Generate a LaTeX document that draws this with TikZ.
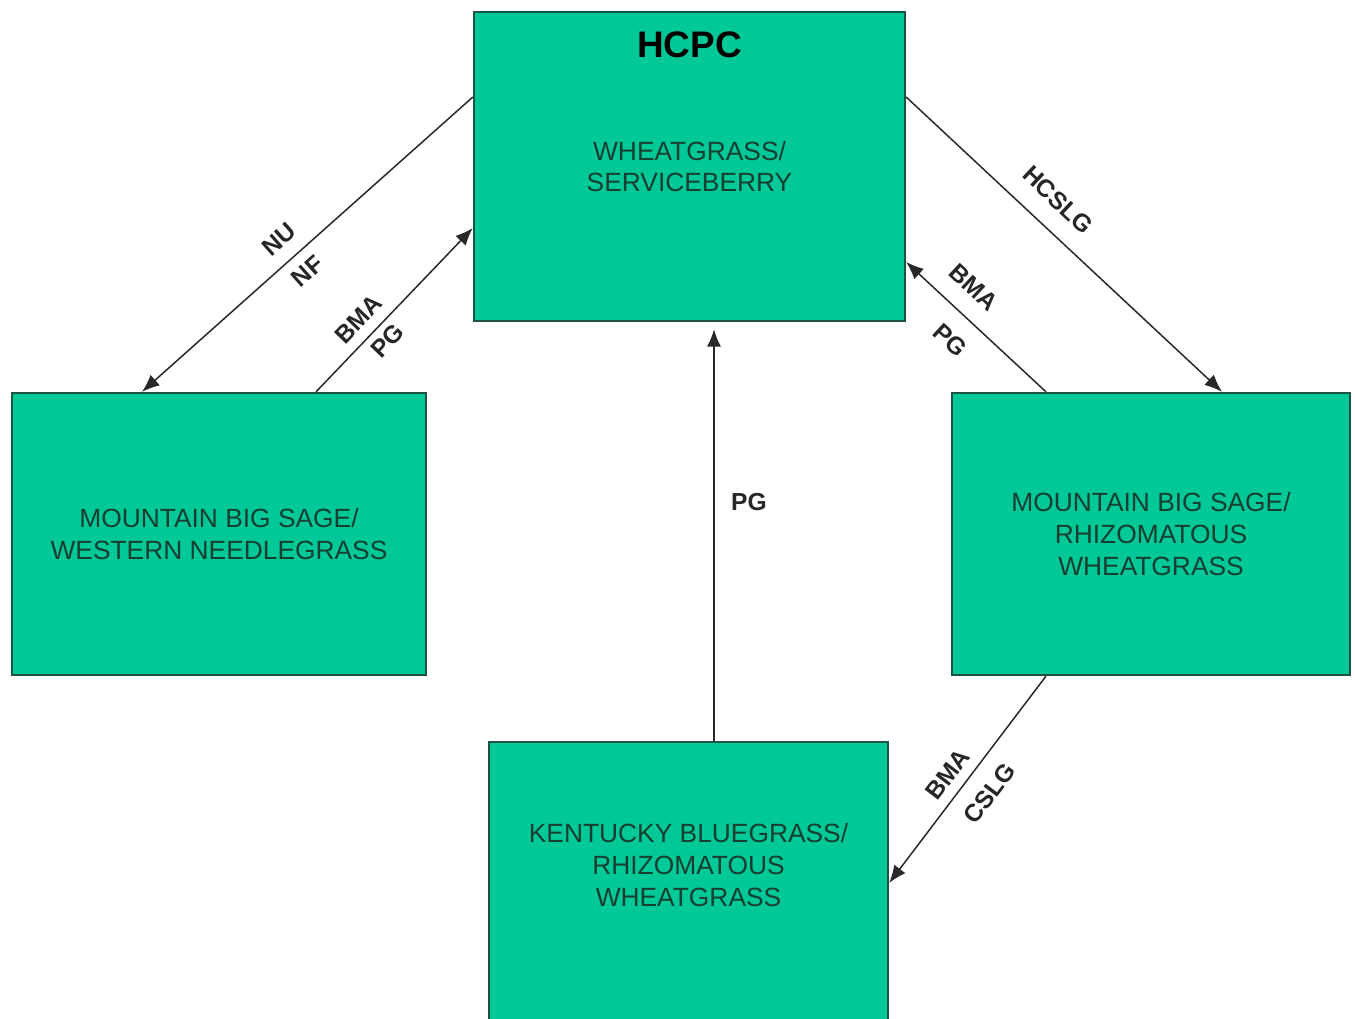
\documentclass[tikz,border=0pt]{standalone}
\usepackage{fontspec}
\setmainfont{Liberation Sans}
\usepackage{tikz}
\usetikzlibrary{arrows.meta}
\definecolor{boxgreen}{RGB}{0,200,150}
\definecolor{boxedge}{RGB}{30,82,66}
\definecolor{boxtext}{RGB}{24,62,50}
\definecolor{linegray}{RGB}{40,40,40}

\begin{document}
\begin{tikzpicture}[
            box/.style={draw=boxedge, line width=1.3pt, fill=boxgreen, inner sep=0pt},
            boxtxt/.style={text=boxtext, align=center, font=\fontsize{15}{18}\selectfont},
            flow/.style={draw=linegray, line width=0.85pt, -{Latex[length=10pt,width=8pt]}},
            lbl/.style={font=\bfseries\fontsize{14}{16}\selectfont, text=black!85}
        ]
            \useasboundingbox (0,0) rectangle (27.1,20.38);

            \node[box, boxtxt, minimum width=8.62cm, minimum height=6.18cm] (hcpc) at (13.79,17.05) {WHEATGRASS/\\SERVICEBERRY};
            \node[font=\bfseries\fontsize{21}{24}\selectfont] (hcpctitle) at ([yshift=-0.68cm]hcpc.north) {HCPC};

            \node[box, boxtxt, minimum width=8.28cm, minimum height=5.64cm] (mbsw) at (4.38,9.70) {MOUNTAIN BIG SAGE/\\WESTERN NEEDLEGRASS};
            \node[box, boxtxt, minimum width=7.96cm, minimum height=5.64cm] (mbsr) at (23.02,9.70) {MOUNTAIN BIG SAGE/\\RHIZOMATOUS\\WHEATGRASS};

            \node[box, anchor=north, minimum width=7.98cm, minimum height=6.2cm] (kbg) at (13.77,5.56) {};
            \node[boxtxt] (kbgtxt) at ([yshift=-2.48cm]kbg.north) {KENTUCKY BLUEGRASS/\\RHIZOMATOUS\\WHEATGRASS};

            \draw[flow] ([yshift=1.39cm]hcpc.west) -- ([xshift=-1.54cm]mbsw.north)
                node[lbl, sloped, pos=0.54, above=4.5pt] {NU}
                node[lbl, sloped, pos=0.54, below=2.8pt] {NF};
            \draw[flow] ([xshift=1.94cm]mbsw.north) -- ([yshift=-1.23cm]hcpc.west)
                node[lbl, sloped, pos=0.36, above=2.5pt] {BMA}
                node[lbl, sloped, pos=0.38, below=0.5pt] {PG};
            \draw[flow] ([yshift=1.39cm]hcpc.east) -- ([xshift=1.42cm]mbsr.north)
                node[lbl, sloped, pos=0.42, above=7.5pt] {HCSLG};
            \draw[flow] ([xshift=-2.10cm]mbsr.north) -- ([yshift=-1.91cm]hcpc.east)
                node[lbl, sloped, pos=0.65, above=7pt] {BMA}
                node[lbl, sloped, pos=0.55, below=7pt] {PG};
            \draw[flow] ([xshift=0.51cm]kbg.north) -- ([xshift=0.49cm,yshift=-0.14cm]hcpc.south)
                node[lbl, pos=0.58, right=6pt] {PG};
            \draw[flow] ([xshift=-2.10cm]mbsr.south) -- ([yshift=-2.84cm]kbg.north east)
                node[lbl, sloped, pos=0.53, above=2.2pt] {BMA}
                node[lbl, sloped, pos=0.49, below=6pt] {CSLG};
        \end{tikzpicture}
\end{document}
